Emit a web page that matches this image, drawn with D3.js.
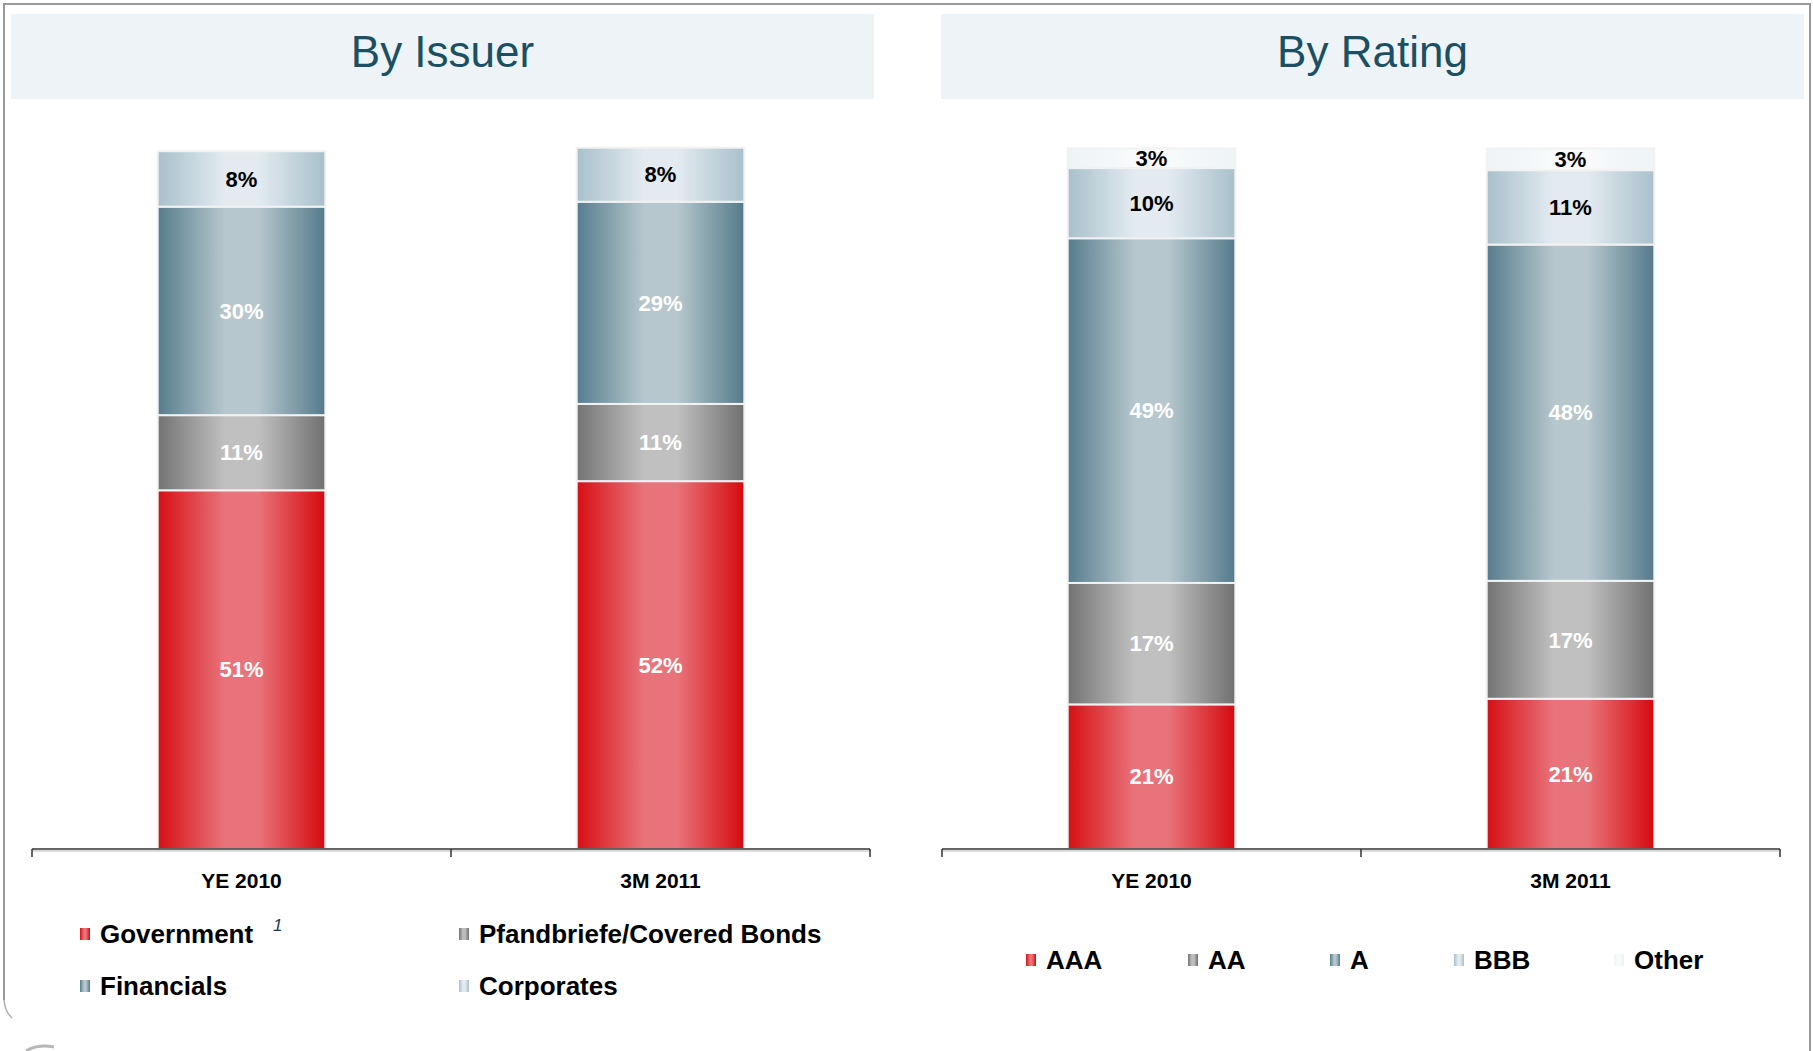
<!DOCTYPE html>
<meta charset="utf-8">
<head>
<style>
  body { margin: 0; background: #fff; }
  svg { display: block; }
  .narrow { font-family: "Liberation Sans Narrow", "Arial Narrow", "Liberation Sans", Arial, sans-serif; }
</style>
</head>
<body>
<div class="chart"></div>
<script src="https://d3js.org/d3.v7.min.js" charset="utf-8"></script>
<script>
const periods = ['YE 2010', '3M 2011'];

const issuerSeries = ['Government', 'Pfandbriefe/Covered Bonds', 'Financials', 'Corporates'];
const issuerYE2010 = [51.1, 10.7, 29.7, 7.9];
const issuer3M2011 = [52.4, 11.0, 28.8, 7.7];

const ratingSeries = ['AAA', 'AA', 'A', 'BBB', 'Other'];
const ratingYE2010 = [20.6, 17.3, 49.1, 10.0, 2.8];
const rating3M2011 = [21.4, 16.8, 47.9, 10.6, 3.1];

const width = 1813;
const height = 1051;

// gradient stops per colour family: edge, centre, edge
const palettes = {
  red:   ['#d60f14', '#e9737a', '#d40a0f'],
  grey:  ['#737373', '#c0c0c0', '#707070'],
  steel: ['#577c8d', '#b6c7cd', '#557a8b'],
  ice:   ['#a8c0cb', '#e3ebf0', '#a8c0cb'],
  other: ['#eef3f6', '#f8fafb', '#eef3f6']
};

const svg = d3.select('.chart')
  .append('svg')
  .attr('width', width)
  .attr('height', height)
  .attr('class', 'narrow');

const defs = svg.append('defs');
Object.keys(palettes).forEach(k => {
  const p = palettes[k];
  const g = defs.append('linearGradient')
    .attr('id', 'grad-' + k)
    .attr('x1', '0%').attr('x2', '100%').attr('y1', '0%').attr('y2', '0%');
  g.append('stop').attr('offset', '0%').attr('stop-color', p[0]);
  g.append('stop').attr('offset', '40%').attr('stop-color', p[1]);
  g.append('stop').attr('offset', '60%').attr('stop-color', p[1]);
  g.append('stop').attr('offset', '100%').attr('stop-color', p[2]);
});

// outer frame
svg.append('path')
  .attr('d', 'M4,1000 L4,4 L1810,4 L1810,1051')
  .attr('fill', 'none')
  .attr('stroke', '#9a9a9a')
  .attr('stroke-width', 2);
svg.append('path')
  .attr('d', 'M4,1000 Q5,1012 12,1018')
  .attr('fill', 'none')
  .attr('stroke', '#b0b0b0')
  .attr('stroke-width', 1.5);
svg.append('path')
  .attr('d', 'M26,1051 Q38,1044 54,1047')
  .attr('fill', 'none')
  .attr('stroke', '#b8b8b8')
  .attr('stroke-width', 3);

const y = d3.scaleLinear().domain([0, 100]).range([849, 147]);

function drawPanel(opts) {
  const g = svg.append('g');

  g.append('rect')
    .attr('x', opts.box[0]).attr('y', 14)
    .attr('width', opts.box[1] - opts.box[0]).attr('height', 85)
    .attr('fill', '#edf3f6');
  g.append('text')
    .attr('x', (opts.box[0] + opts.box[1]) / 2)
    .attr('y', 67)
    .attr('text-anchor', 'middle')
    .style('font-size', '44px')
    .style('fill', '#1b4f63')
    .text(opts.title);

  const x = d3.scaleBand()
    .domain(periods)
    .range(opts.range)
    .paddingInner(0.6)
    .paddingOuter(0.3);

  const rows = periods.map((p, i) => {
    const r = { period: p };
    opts.series.forEach((s, j) => { r[s] = opts.values[i][j]; });
    return r;
  });
  const stacked = d3.stack().keys(opts.series)(rows);

  const layer = g.selectAll('.layer').data(stacked).enter()
    .append('g')
    .attr('class', 'layer');

  layer.selectAll('rect').data(d => d).enter()
    .append('rect')
    .attr('x', d => x(d.data.period))
    .attr('width', x.bandwidth())
    .attr('y', d => y(d[1]))
    .attr('height', d => y(d[0]) - y(d[1]))
    .attr('fill', function() { return 'url(#grad-' + opts.colors[d3.select(this.parentNode).datum().index] + ')'; })
    .attr('stroke', '#f2f2f2')
    .attr('stroke-width', 2);

  layer.selectAll('text').data(d => d).enter()
    .append('text')
    .attr('x', d => x(d.data.period) + x.bandwidth() / 2)
    .attr('y', d => (y(d[0]) + y(d[1])) / 2)
    .attr('dy', '0.35em')
    .attr('text-anchor', 'middle')
    .style('font-size', '22px')
    .style('font-weight', 'bold')
    .style('fill', function() { return opts.labelFill[d3.select(this.parentNode).datum().index]; })
    .text(d => Math.round(d[1] - d[0]) + '%');

  // axis with ticks on category boundaries
  const axis = g.append('g').attr('transform', 'translate(0,849)');
  axis.append('line')
    .attr('x1', opts.range[0]).attr('x2', opts.range[1])
    .attr('y1', 2).attr('y2', 2)
    .attr('stroke', '#dcdcdc').attr('stroke-width', 2);
  axis.call(d3.axisBottom(x).tickSize(0).tickPadding(24));
  axis.select('.domain').remove();
  axis.selectAll('.tick text')
    .attr('class', 'narrow')
    .style('font-size', '21px')
    .style('font-weight', 'bold')
    .style('fill', '#000');
  axis.append('line')
    .attr('x1', opts.range[0]).attr('x2', opts.range[1])
    .attr('stroke', '#333').attr('stroke-width', 1.5);
  d3.range(periods.length + 1).forEach(i => {
    const tx = opts.range[0] + i * x.step();
    axis.append('line')
      .attr('x1', tx).attr('x2', tx)
      .attr('y1', 0).attr('y2', 8)
      .attr('stroke', '#333').attr('stroke-width', 1.5);
  });

  // legend
  const leg = g.selectAll('.leg').data(opts.series).enter()
    .append('g')
    .attr('transform', (d, i) => `translate(${opts.legend[i][0]},${opts.legend[i][1]})`);
  leg.append('rect')
    .attr('x', 0).attr('y', -6)
    .attr('width', 10).attr('height', 12)
    .attr('fill', (d, i) => 'url(#grad-' + opts.colors[i] + ')');
  leg.append('text')
    .attr('x', 20)
    .attr('dy', '0.35em')
    .style('font-size', '26px')
    .style('font-weight', 'bold')
    .style('fill', '#000')
    .text(d => d);

  return g;
}

const issuerPanel = drawPanel({
  title: 'By Issuer',
  box: [11, 874],
  range: [32, 870],
  series: issuerSeries,
  values: [issuerYE2010, issuer3M2011],
  colors: ['red', 'grey', 'steel', 'ice'],
  labelFill: ['#fff', '#fff', '#fff', '#000'],
  legend: [[80, 934], [459, 934], [80, 986], [459, 986]]
});

// footnote marker next to "Government"
issuerPanel.append('text')
  .attr('x', 273).attr('y', 931)
  .style('font-size', '17px')
  .style('font-style', 'italic')
  .style('fill', '#1b3a4a')
  .text('1');

drawPanel({
  title: 'By Rating',
  box: [941, 1804],
  range: [942, 1780],
  series: ratingSeries,
  values: [ratingYE2010, rating3M2011],
  colors: ['red', 'grey', 'steel', 'ice', 'other'],
  labelFill: ['#fff', '#fff', '#fff', '#000', '#000'],
  legend: [[1026, 960], [1188, 960], [1330, 960], [1454, 960], [1614, 960]]
});
</script>
</body>
